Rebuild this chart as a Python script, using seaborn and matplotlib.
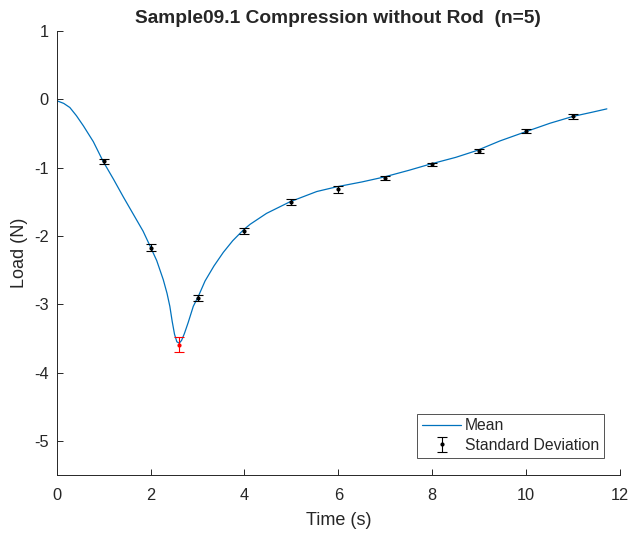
import numpy as np
import pandas as pd
import matplotlib
matplotlib.use("Agg")
import matplotlib.pyplot as plt
import seaborn as sns

# Mean curve
time_s = [0.0, 0.15, 0.28, 0.42, 0.57, 0.78, 0.99, 1.21, 1.42, 1.63, 1.84, 1.99, 2.13, 2.27,
          2.35, 2.41, 2.46, 2.51, 2.56, 2.61, 2.66, 2.72, 2.80, 2.91, 3.02, 3.16, 3.35, 3.55,
          3.75, 3.98, 4.12, 4.47, 4.97, 5.54, 5.97, 6.5, 6.96, 7.5, 7.95, 8.5, 8.95, 9.44,
          10.01, 10.51, 11.0, 11.4, 11.72]
load_n = [-0.02, -0.06, -0.12, -0.24, -0.39, -0.62, -0.91, -1.17, -1.43, -1.68, -1.93, -2.15,
          -2.36, -2.64, -2.84, -3.03, -3.25, -3.44, -3.55, -3.57, -3.53, -3.43, -3.27, -3.03,
          -2.88, -2.66, -2.44, -2.24, -2.07, -1.91, -1.83, -1.67, -1.50, -1.35, -1.28, -1.21,
          -1.14, -1.04, -0.95, -0.85, -0.75, -0.61, -0.47, -0.35, -0.25, -0.19, -0.14]

# Standard deviation markers
sd_time = [1, 2, 3, 4, 5, 6, 7, 8, 9, 10, 11]
sd_mean = [-0.91, -2.17, -2.91, -1.93, -1.50, -1.32, -1.15, -0.95, -0.76, -0.47, -0.25]
sd_err = [0.03, 0.05, 0.05, 0.04, 0.04, 0.05, 0.03, 0.02, 0.03, 0.03, 0.04]

peak_time = [2.6]
peak_mean = [-3.59]
peak_err = [0.11]

sns.set_theme(style="ticks")
plt.rcParams['font.family'] = ['Liberation Sans', 'DejaVu Sans']

fig = plt.figure(figsize=(6.32, 5.33), dpi=100)
ax = fig.add_axes([56.7/632, 58/533, 563.3/632, 444/533])

df = pd.DataFrame({"Time (s)": time_s, "Load (N)": load_n})
sns.lineplot(data=df, x="Time (s)", y="Load (N)", ax=ax, color="#0072BD", lw=0.9, label="Mean")

ax.errorbar(sd_time, sd_mean, yerr=sd_err, fmt='.', color='black', ms=4,
            capsize=3.8, elinewidth=0.8, capthick=0.8, label="Standard Deviation")
ax.errorbar(peak_time, peak_mean, yerr=peak_err, fmt='.', color='red', ms=4,
            capsize=3.8, elinewidth=0.8, capthick=0.8)

ax.set_xlim(0, 12)
ax.set_ylim(-5.5, 1)
ax.set_xticks(range(0, 13, 2))
ax.set_yticks(range(-5, 2))
ax.set_yticklabels([str(v) for v in range(-5, 2)])

gray = '#262626'
for s in ['top', 'right']:
    ax.spines[s].set_visible(False)
for s in ['left', 'bottom']:
    ax.spines[s].set_color(gray)
    ax.spines[s].set_linewidth(0.7)
ax.tick_params(direction='in', length=4, width=0.7, colors=gray, labelsize=11.8)
ax.tick_params(axis='x', pad=9.5)
ax.tick_params(axis='y', pad=5.8)
ax.set_xlabel("Time (s)", fontsize=13, color=gray, labelpad=6)
ax.set_ylabel("Load (N)", fontsize=13, color=gray, labelpad=4)
ax.set_title("Sample09.1 Compression without Rod  (n=5)", fontsize=13.8, fontweight='bold', pad=5.5)

handles, labels = ax.get_legend_handles_labels()
leg = ax.legend(handles, labels, loc='lower right', bbox_to_anchor=(0.9716, 0.039),
                borderaxespad=0, fontsize=11.3, frameon=True, fancybox=False, edgecolor=gray,
                handlelength=2.5, borderpad=0.3, labelspacing=0.3, handletextpad=0.25)
leg.get_frame().set_linewidth(0.7)

fig.savefig("out.png", dpi=100)
